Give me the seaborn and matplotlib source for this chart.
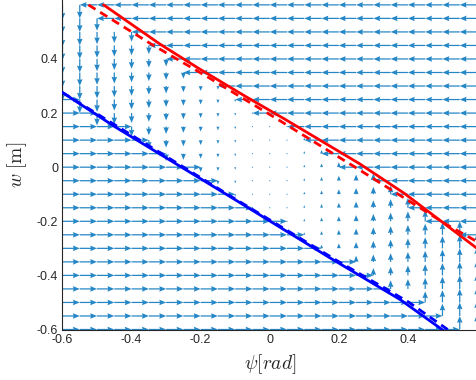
import numpy as np
import matplotlib
matplotlib.use("Agg")
import matplotlib.pyplot as plt
import seaborn as sns

# grid of the vector field (psi, w)
psi_grid = np.round(np.arange(-0.6, 0.6001, 0.05), 2)
w_grid = np.round(np.arange(-0.6, 0.6001, 0.05), 2)
speed = 0.55  # horizontal speed outside the band

# switching curves
red_solid_psi = [-0.481, -0.319, -0.203, -0.068, 0.043, 0.261, 0.391, 0.6]
red_solid_w = [0.6, 0.456, 0.363, 0.26, 0.178, 0.012, -0.098, -0.30]
red_dash_psi = [-0.525, -0.343, -0.174, 0.019, 0.251, 0.512, 0.6]
red_dash_w = [0.6, 0.455, 0.329, 0.18, -0.003, -0.212, -0.275]
blue_solid_psi = [-0.6, -0.449, -0.116, -0.01, 0.174, 0.377, 0.502]
blue_solid_w = [0.276, 0.15, -0.108, -0.191, -0.335, -0.489, -0.603]
blue_dash_psi = [-0.6, -0.116, 0.198, 0.4, 0.515]
blue_dash_w = [0.276, -0.105, -0.348, -0.497, -0.6]

xticks = [-0.6, -0.4, -0.2, 0, 0.2, 0.4]
yticks = [-0.6, -0.4, -0.2, 0, 0.2, 0.4]

P, W = np.meshgrid(psi_grid, w_grid)
upper = np.interp(P, red_dash_psi, red_dash_w)
lower = np.interp(P, blue_dash_psi, blue_dash_w)
above = W > upper
below = W < lower
band = ~above & ~below
U = np.where(above, -speed, np.where(below, speed, 0.0))
V = np.where(band, P, 0.0)

sns.set_style("white")
plt.rcParams["mathtext.fontset"] = "cm"
plt.rcParams["font.family"] = ["Liberation Sans", "DejaVu Sans"]

fig = plt.figure(figsize=(4.77, 3.80), dpi=100)
ax = fig.add_axes([62.5 / 477, 50.5 / 380, 1 - 62.5 / 477, 1 - 50.5 / 380])

ax.quiver(P, W, U, V, color="#0072BD", angles="xy", scale_units="xy", scale=11,
          width=0.003, headwidth=4.5, headlength=5.5, headaxislength=5, alpha=0.85, zorder=2)

sns.lineplot(x=red_solid_psi, y=red_solid_w, color="#FF0000", lw=2, ax=ax, zorder=3)
sns.lineplot(x=red_dash_psi, y=red_dash_w, color="#FF0000", lw=2, ax=ax, zorder=3)
ax.lines[-1].set_dashes([3, 2])
sns.lineplot(x=blue_solid_psi, y=blue_solid_w, color="#0000FF", lw=2, ax=ax, zorder=3)
sns.lineplot(x=blue_dash_psi, y=blue_dash_w, color="#0000FF", lw=2, ax=ax, zorder=3)
ax.lines[-1].set_dashes([3, 2])

ax.set_xlim(-0.6, 0.6)
ax.set_ylim(-0.6, 0.618)
ax.set_xticks(xticks)
ax.set_xticklabels(["-0.6", "-0.4", "-0.2", "0", "0.2", "0.4"])
ax.set_yticks(yticks)
ax.set_yticklabels(["-0.6", "-0.4", "-0.2", "0", "0.2", "0.4"])
ax.tick_params(direction="in", length=3, width=0.6, labelsize=9, colors="#262626", pad=3)
for side in ["top", "right"]:
    ax.spines[side].set_visible(False)
for side in ["left", "bottom"]:
    ax.spines[side].set_color("#262626")
    ax.spines[side].set_linewidth(0.8)

ax.set_xlabel(r"$\psi[rad]$", fontsize=14, labelpad=5)
ax.set_ylabel(r"$w\ \mathrm{[m]}$", fontsize=14, labelpad=6)

fig.savefig("out.png", dpi=100)
